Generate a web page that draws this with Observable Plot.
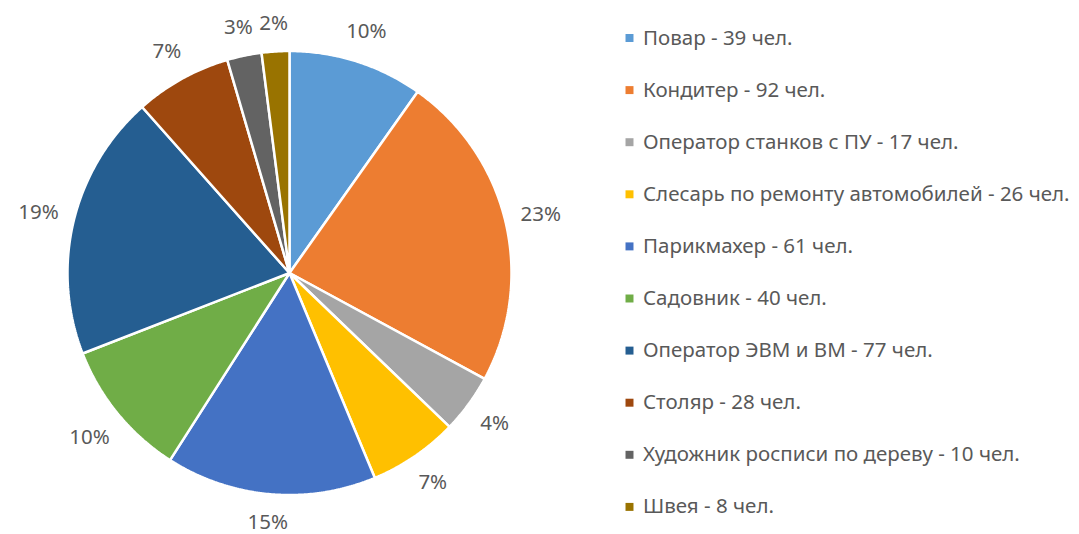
<!DOCTYPE html>
<html>
<head>
<meta charset="utf-8">
<script src="https://cdn.jsdelivr.net/npm/d3@7"></script>
<script src="https://cdn.jsdelivr.net/npm/@observablehq/plot@0.6"></script>
<style>
  html, body { margin: 0; padding: 0; background: #ffffff; }
  #chart svg { display: block; }
</style>
</head>
<body>
<div id="chart"></div>
<script>
const categories = [
  "Повар",
  "Кондитер",
  "Оператор станков с ПУ",
  "Слесарь по ремонту автомобилей",
  "Парикмахер",
  "Садовник",
  "Оператор ЭВМ и ВМ",
  "Столяр",
  "Художник росписи по дереву",
  "Швея"
];
const values = [39, 92, 17, 26, 61, 40, 77, 28, 10, 8];
const colors = ["#5B9BD5", "#ED7D31", "#A5A5A5", "#FFC000", "#4472C4", "#70AD47", "#255E91", "#9E480E", "#636363", "#997300"];
const unit = "чел.";

const W = 1079, H = 534;
const cx = 289, cy = 272.5, R = 222;
const FONT = "'Noto Sans', sans-serif";
const FS = 20.5;
const TEXT = "#595959";

const total = d3.sum(values);
const arcs = d3.pie().sort(null).value(d => d)(values);

// slice polygons
const slicePts = [];
arcs.forEach((a, i) => {
  const name = categories[i];
  slicePts.push({name, x: cx, y: cy});
  const n = Math.max(2, Math.ceil((a.endAngle - a.startAngle) / (Math.PI / 360)));
  for (let k = 0; k <= n; k++) {
    const t = a.startAngle + (a.endAngle - a.startAngle) * k / n;
    slicePts.push({name, x: cx + R * Math.sin(t), y: cy - R * Math.cos(t)});
  }
  slicePts.push({name, x: cx, y: cy});
});

// percentage labels (outside end)
const labels = arcs.map((a, i) => {
  const m = (a.startAngle + a.endAngle) / 2;
  const txt = Math.round(values[i] / total * 100) + "%";
  const w = txt.length * 11.5, h = 20;
  const d = R + 17 + Math.abs(Math.sin(m)) * w / 2 + Math.abs(Math.cos(m)) * h / 2;
  return {txt, x: cx + d * Math.sin(m), y: cy - d * Math.cos(m)};
});

// legend
const legX = 629, legY0 = 37.5, legStep = 52.1;
const legend = categories.map((c, i) => ({
  name: c,
  label: `${c} - ${values[i]} ${unit}`,
  x: legX,
  y: legY0 + i * legStep
}));

const chart = Plot.plot({
  width: W,
  height: H,
  margin: 0,
  x: {domain: [0, W], range: [0, W], axis: null},
  y: {domain: [0, H], range: [0, H], axis: null},
  color: {domain: categories, range: colors},
  style: {fontFamily: FONT, background: "#ffffff"},
  marks: [
    Plot.line(slicePts, {x: "x", y: "y", z: "name", fill: "name", stroke: "#ffffff", strokeWidth: 2.5, strokeLinejoin: "miter", curve: "linear"}),
    Plot.text(labels, {x: "x", y: "y", text: "txt", fill: TEXT, fontSize: FS, textAnchor: "middle"}),
    Plot.dot(legend, {x: "x", y: "y", fill: "name", symbol: "square", r: 4.5, stroke: null}),
    Plot.text(legend, {x: d => d.x + 13.5, y: "y", text: "label", fill: TEXT, fontSize: FS, textAnchor: "start"})
  ]
});
document.getElementById("chart").appendChild(chart);
</script>
</body>
</html>
